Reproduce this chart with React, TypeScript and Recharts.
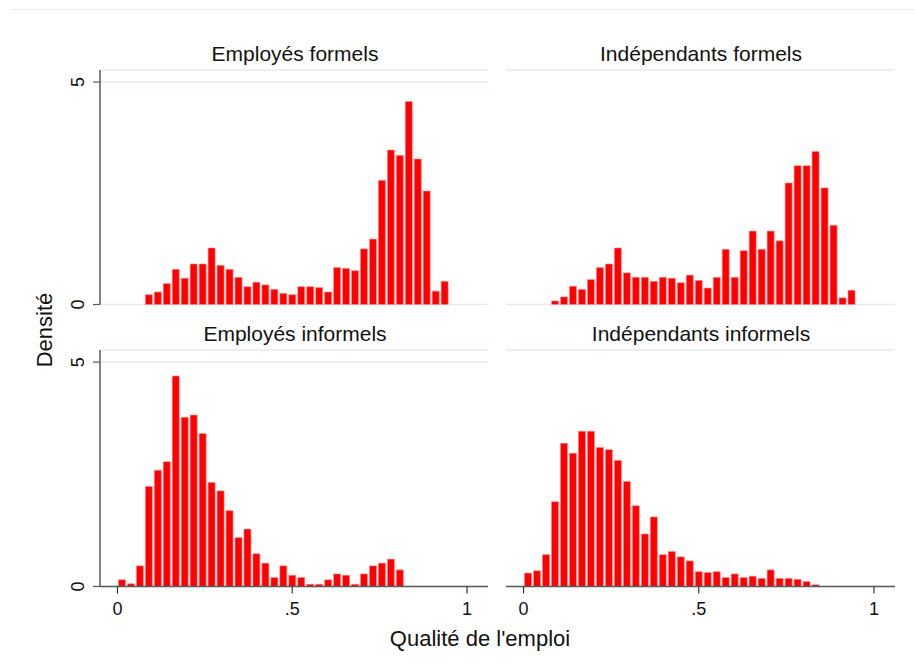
import { BarChart, Bar, XAxis, YAxis, CartesianGrid } from "recharts";

// centres des classes (largeur ~1/39)
const BIN_MIDS = [
  0.0128, 0.0385, 0.0641, 0.0897, 0.1154, 0.141, 0.1667, 0.1923, 0.2179, 0.2436,
  0.2692, 0.2949, 0.3205, 0.3462, 0.3718, 0.3974, 0.4231, 0.4487, 0.4744, 0.5,
  0.5256, 0.5513, 0.5769, 0.6026, 0.6282, 0.6538, 0.6795, 0.7051, 0.7308, 0.7564,
  0.7821, 0.8077, 0.8333, 0.859, 0.8846, 0.9103, 0.9359,
];

const EMP_FORMELS = [
  0, 0, 0, 0.22, 0.28, 0.47, 0.79, 0.59, 0.91, 0.91,
  1.27, 0.88, 0.79, 0.61, 0.4, 0.5, 0.44, 0.34, 0.25, 0.22,
  0.4, 0.4, 0.38, 0.28, 0.83, 0.81, 0.76, 1.25, 1.47, 2.79,
  3.47, 3.35, 4.56, 3.27, 2.55, 0.3, 0.52,
];

const IND_FORMELS = [
  0, 0, 0, 0.08, 0.17, 0.41, 0.34, 0.56, 0.83, 0.91,
  1.27, 0.71, 0.61, 0.61, 0.52, 0.61, 0.59, 0.49, 0.66, 0.54,
  0.37, 0.61, 1.24, 0.61, 1.21, 1.65, 1.24, 1.65, 1.43, 2.73,
  3.12, 3.12, 3.44, 2.62, 1.78, 0.15, 0.32,
];

const EMP_INFORMELS = [
  0.15, 0.06, 0.46, 2.23, 2.59, 2.78, 4.69, 3.77, 3.82, 3.41,
  2.32, 2.13, 1.69, 1.09, 1.28, 0.73, 0.52, 0.2, 0.46, 0.25,
  0.2, 0.05, 0.05, 0.15, 0.28, 0.25, 0.05, 0.28, 0.46, 0.52,
  0.61, 0.37, 0, 0, 0, 0, 0,
];

const IND_INFORMELS = [
  0.3, 0.35, 0.71, 1.89, 3.19, 2.97, 3.46, 3.46, 3.1, 3.05,
  2.81, 2.34, 1.8, 1.17, 1.55, 0.71, 0.78, 0.66, 0.57, 0.33,
  0.31, 0.33, 0.2, 0.28, 0.2, 0.23, 0.18, 0.37, 0.18, 0.18,
  0.16, 0.11, 0.04, 0, 0, 0, 0,
];

const X_TICKS = [0, 0.5, 1];
const Y_TICKS = [0, 5];

const FONT = "'Liberation Sans', Arial, sans-serif";

const fmtX = (v: number) => (v === 0.5 ? ".5" : String(v));

// étiquettes de l'axe Y tournées comme dans Stata
const YTick = ({ x, y, payload }: any) => {
  const bx = x - 7;
  return (
    <text
      x={bx}
      y={y}
      transform={`rotate(-90 ${bx} ${y})`}
      textAnchor="middle"
      fontSize={18}
      fontFamily={FONT}
      fill="#111"
    >
      {payload.value}
    </text>
  );
};

interface PanelProps {
  values: number[];
  left: number;
  top: number;
  plotW: number;
  plotH: number;
  showX: boolean;
  showY: boolean;
}

function Panel({ values, left, top, plotW, plotH, showX, showY }: PanelProps) {
  const data = BIN_MIDS.map((x, i) => ({ x, d: values[i] })).filter(
    (p) => p.d > 0
  );
  return (
    <div style={{ position: "absolute", left: left - 100, top: top - 10 }}>
      <BarChart
        width={100 + plotW + 5}
        height={10 + plotH + 50}
        data={data}
        margin={{ top: 10, right: 5, bottom: 0, left: 0 }}
      >
        <CartesianGrid vertical={false} stroke="#e4ecef" strokeWidth={1.5} />
        <XAxis
          type="number"
          dataKey="x"
          domain={[-0.05, 1.06]}
          ticks={X_TICKS}
          tickFormatter={fmtX}
          height={50}
          axisLine={showX ? { stroke: "#5a5a5a", strokeWidth: 1.5 } : false}
          tickLine={showX ? { stroke: "#333", strokeWidth: 1.2 } : false}
          tick={showX ? { fontSize: 18, fill: "#111", fontFamily: FONT } : false}
          tickSize={7}
          tickMargin={9}
        />
        <YAxis
          type="number"
          domain={[0, 5.27]}
          ticks={Y_TICKS}
          width={100}
          axisLine={showY ? { stroke: "#5a5a5a", strokeWidth: 1.5 } : false}
          tickLine={showY ? { stroke: "#5a5a5a", strokeWidth: 1.2 } : false}
          tick={showY ? <YTick /> : false}
          tickSize={7}
          tickMargin={2}
        />
        <Bar
          dataKey="d"
          fill="#ff0000"
          stroke="#ff8a8a"
          strokeWidth={0.6}
          barSize={7}
          isAnimationActive={false}
        />
      </BarChart>
    </div>
  );
}

export default function App() {
  return (
    <div
      style={{
        position: "absolute",
        left: 0,
        top: 0,
        width: 915,
        height: 670,
        background: "#fff",
        overflow: "hidden",
      }}
    >
      <Panel values={EMP_FORMELS} left={100} top={70} plotW={388} plotH={234.5} showX={false} showY={true} />
      <Panel values={IND_FORMELS} left={506} top={70} plotW={389} plotH={234.5} showX={false} showY={false} />
      <Panel values={EMP_INFORMELS} left={100} top={350} plotW={388} plotH={236.5} showX={true} showY={true} />
      <Panel values={IND_INFORMELS} left={506} top={350} plotW={389} plotH={236.5} showX={true} showY={false} />

      <svg
        width={915}
        height={670}
        style={{ position: "absolute", left: 0, top: 0, pointerEvents: "none" }}
      >
        <line x1={10} y1={9.5} x2={915} y2={9.5} stroke="#e8eef0" strokeWidth={1} />
        <g fontFamily={FONT} fill="#111" textAnchor="middle">
          <text x={295} y={61} fontSize={21}>Employés formels</text>
          <text x={701} y={61} fontSize={21}>Indépendants formels</text>
          <text x={295} y={341} fontSize={21}>Employés informels</text>
          <text x={701} y={341} fontSize={21}>Indépendants informels</text>
          <text x={480} y={646} fontSize={22}>Qualité de l'emploi</text>
          <text x={52} y={330} fontSize={22} transform="rotate(-90 52 330)">
            Densité
          </text>
        </g>
      </svg>
    </div>
  );
}
